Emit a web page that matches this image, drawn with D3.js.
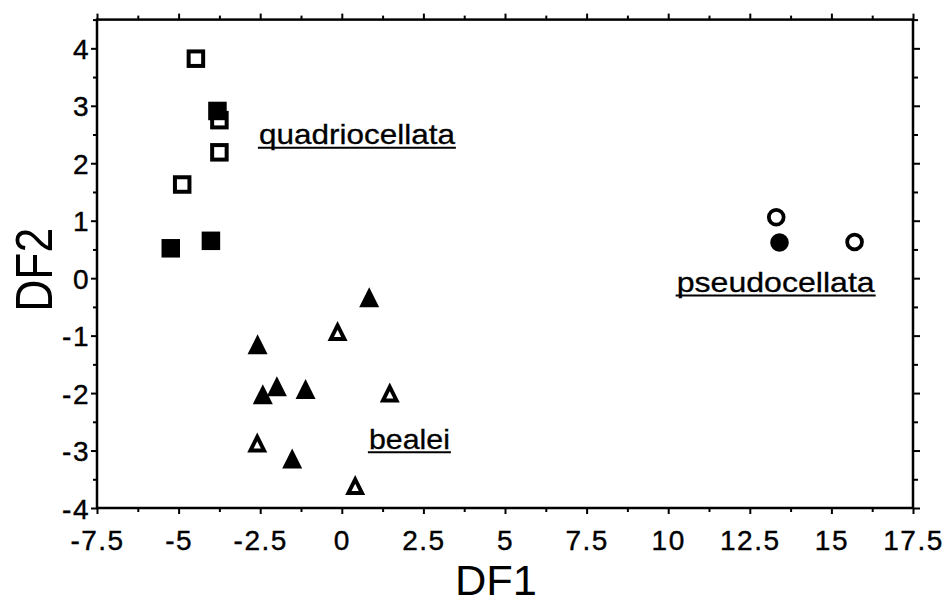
<!DOCTYPE html>
<html><head><meta charset="utf-8">
<script src="https://cdn.jsdelivr.net/npm/d3@7"></script>
<style>
body{margin:0;background:#fff}
svg{display:block}
text{font-family:"Liberation Sans",Arial,Helvetica,sans-serif;fill:#000}
</style>
</head><body>
<svg id="chart" width="943" height="604"></svg>
<script>
// ---- data (DF1, DF2) ----
const quadOpen     = [[-4.47, 3.82], [-3.75, 2.75], [-3.75, 2.19], [-4.89, 1.63]];
const quadFilled   = [[-3.81, 2.91], [-5.24, 0.52], [-4.01, 0.65]];
const bealeiFilled = [[0.84, -0.33], [-2.58, -1.15], [-2.42, -2.02], [-1.99, -1.88], [-1.11, -1.93], [-1.52, -3.14]];
const bealeiOpen   = [[-0.13, -0.92], [1.47, -1.99], [-2.59, -2.86], [0.41, -3.60]];
const pseudoOpen   = [[13.31, 1.06], [15.71, 0.63]];
const pseudoFilled = [[13.41, 0.62]];

const speciesNames = ["quadriocellata", "bealei", "pseudocellata"];
const speciesLabelAt = [[-2.54, 2.33], [0.83, -2.97], [10.26, -0.24]]; // DF1, DF2 of text start / baseline

const xTicks = [-7.5, -5, -2.5, 0, 2.5, 5, 7.5, 10, 12.5, 15, 17.5];
const yTicks = [-4, -3, -2, -1, 0, 1, 2, 3, 4];
const xDomain = [-7.5, 17.5];
const yDomain = [-4, 4.5];
const xTitle = "DF1", yTitle = "DF2";

// ---- layout ----
const L = 97, R = 913, T = 19.6, B = 508;
const svg = d3.select("#chart");
const x = d3.scaleLinear().domain(xDomain).range([L, R]);
const y = d3.scaleLinear().domain(yDomain).range([B, T]);

const xMinor = d3.range(xDomain[0], xDomain[1] + 1e-9, 1.25).filter(v => !xTicks.includes(v));
const yMinor = d3.range(yDomain[0], yDomain[1] + 1e-9, 0.5).filter(v => !yTicks.includes(v));

function styleAxis(g) {
  g.select(".domain").remove();
  g.selectAll(".tick line").attr("stroke", "#000").attr("stroke-width", 2);
}

// bottom
const gb = svg.append("g").attr("transform", `translate(0,${B})`)
  .call(d3.axisBottom(x).tickValues(xTicks).tickSize(6).tickFormat(d => d));
styleAxis(gb);
gb.selectAll("text").attr("y", 42).attr("dy", null)
  .style("font-size", "28px").style("letter-spacing", "1.5px")
  .attr("fill", "#000").attr("stroke", "#000").attr("stroke-width", 0.4);
svg.append("g").attr("transform", `translate(0,${B})`)
  .call(d3.axisBottom(x).tickValues(xMinor).tickSize(4).tickFormat("")).call(styleAxis);

// top
svg.append("g").attr("transform", `translate(0,${T})`)
  .call(d3.axisTop(x).tickValues(xTicks).tickSize(6).tickFormat("")).call(styleAxis);
svg.append("g").attr("transform", `translate(0,${T})`)
  .call(d3.axisTop(x).tickValues(xMinor).tickSize(4).tickFormat("")).call(styleAxis);

// left
const gl = svg.append("g").attr("transform", `translate(${L},0)`)
  .call(d3.axisLeft(y).tickValues(yTicks).tickSize(6).tickFormat(d => d));
styleAxis(gl);
gl.selectAll("text").attr("x", -7).attr("y", 10).attr("dy", null)
  .style("font-size", "28px").style("letter-spacing", "1.5px")
  .attr("fill", "#000").attr("stroke", "#000").attr("stroke-width", 0.4);
svg.append("g").attr("transform", `translate(${L},0)`)
  .call(d3.axisLeft(y).tickValues(yMinor).tickSize(4).tickFormat("")).call(styleAxis);

// right
svg.append("g").attr("transform", `translate(${R},0)`)
  .call(d3.axisRight(y).tickValues(yTicks).tickSize(7).tickFormat("")).call(styleAxis);
svg.append("g").attr("transform", `translate(${R},0)`)
  .call(d3.axisRight(y).tickValues(yMinor).tickSize(5).tickFormat("")).call(styleAxis);

// frame
svg.append("rect").attr("x", L).attr("y", T).attr("width", R - L).attr("height", B - T)
  .attr("fill", "none").attr("stroke", "#000").attr("stroke-width", 2.5);

// axis titles
svg.append("text").attr("x", (L + R) / 2 - 9).attr("y", 595)
  .attr("text-anchor", "middle").style("font-size", "42px")
  .attr("textLength", 82).attr("lengthAdjust", "spacingAndGlyphs").text(xTitle);
svg.append("text").attr("transform", `translate(52,${(T + B) / 2 + 6}) rotate(-90)`)
  .attr("text-anchor", "middle").style("font-size", "52px")
  .attr("textLength", 84).attr("lengthAdjust", "spacingAndGlyphs").text(yTitle);

// ---- markers ----
const marks = svg.append("g");
// squares
const sqOpen = 14.5, sqFill = 18.5;
marks.selectAll(".qo").data(quadOpen).join("rect")
  .attr("x", d => x(d[0]) - sqOpen / 2).attr("y", d => y(d[1]) - sqOpen / 2)
  .attr("width", sqOpen).attr("height", sqOpen)
  .attr("fill", "#fff").attr("stroke", "#000").attr("stroke-width", 4);
marks.selectAll(".qf").data(quadFilled).join("rect")
  .attr("x", d => x(d[0]) - sqFill / 2).attr("y", d => y(d[1]) - sqFill / 2)
  .attr("width", sqFill).attr("height", sqFill).attr("fill", "#000");

// triangles (bounding box centred)
const TW = 20, TH = 20;
function triPath(cx, cy, k) {
  const pts = [[cx, cy - TH / 2], [cx + TW / 2, cy + TH / 2], [cx - TW / 2, cy + TH / 2]];
  if (k === 1) return "M" + pts.map(p => p.join(",")).join("L") + "Z";
  const s = Math.hypot(TW / 2, TH);
  const r = (TW * TH / 2) / ((TW + 2 * s) / 2);
  const ic = [cx, cy + TH / 2 - r];
  const q = pts.map(p => [ic[0] + k * (p[0] - ic[0]), ic[1] + k * (p[1] - ic[1])]);
  return "M" + q.map(p => p.join(",")).join("L") + "Z";
}
marks.selectAll(".bf").data(bealeiFilled).join("path")
  .attr("d", d => triPath(x(d[0]), y(d[1]), 1)).attr("fill", "#000");
const bo = marks.selectAll(".bo").data(bealeiOpen).join("g");
bo.append("path").attr("d", d => triPath(x(d[0]), y(d[1]), 1)).attr("fill", "#000");
bo.append("path").attr("d", d => triPath(x(d[0]), y(d[1]), 0.36)).attr("fill", "#fff");

// circles
marks.selectAll(".po").data(pseudoOpen).join("circle")
  .attr("cx", d => x(d[0])).attr("cy", d => y(d[1])).attr("r", 7.4)
  .attr("fill", "#fff").attr("stroke", "#000").attr("stroke-width", 3.8);
marks.selectAll(".pf").data(pseudoFilled).join("circle")
  .attr("cx", d => x(d[0])).attr("cy", d => y(d[1])).attr("r", 9.3).attr("fill", "#000");

// ---- species labels (underlined) ----
const labelWidths = [196, 81, 198];
const lab = svg.append("g");
speciesNames.forEach((name, i) => {
  const px = x(speciesLabelAt[i][0]), py = y(speciesLabelAt[i][1]);
  lab.append("text").attr("x", px).attr("y", py).style("font-size", "28px")
    .attr("stroke", "#000").attr("stroke-width", 0.3)
    .attr("textLength", labelWidths[i]).attr("lengthAdjust", "spacingAndGlyphs").text(name);
  lab.append("line").attr("x1", px - 1).attr("x2", px + labelWidths[i] + 1)
    .attr("y1", py + 3.5).attr("y2", py + 3.5).attr("stroke", "#000").attr("stroke-width", 2);
});
</script>
</body></html>
